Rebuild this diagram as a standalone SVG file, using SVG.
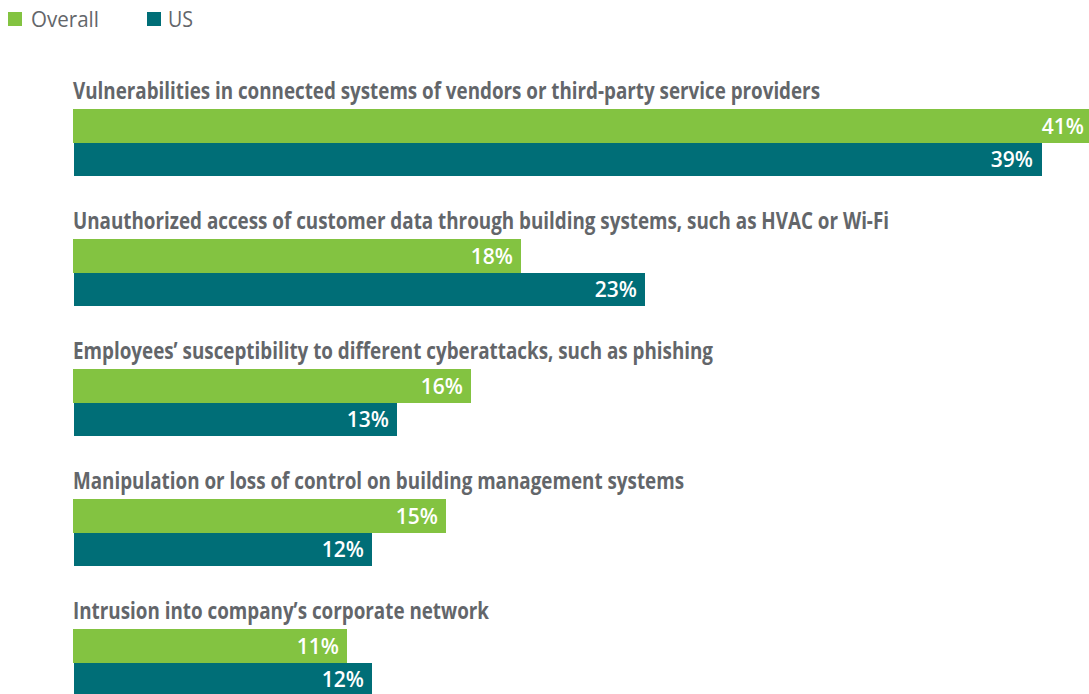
<svg xmlns="http://www.w3.org/2000/svg" width="1089" height="694" viewBox="0 0 1089 694">
<style>
.legend{font-family:"Open Sans","Liberation Sans",sans-serif;font-size:21px;fill:#63666a}
.title{font-family:"Open Sans","Liberation Sans",sans-serif;font-size:23.5px;font-weight:700;fill:#63666a}
.val{font-family:"Open Sans","Liberation Sans",sans-serif;font-size:21px;font-weight:600;fill:#ffffff;text-anchor:end}
.ov{fill:#83c341}
.us{fill:#006e77}
</style>
<rect width="1089" height="694" fill="#ffffff"/>
<g id="legend">
<rect class="ov" x="8" y="12" width="14" height="14"/>
<text class="legend" x="31" y="27" textLength="68" lengthAdjust="spacingAndGlyphs">Overall</text>
<rect class="us" x="147" y="12" width="14" height="14"/>
<text class="legend" x="168" y="27" textLength="25" lengthAdjust="spacingAndGlyphs">US</text>
</g>
<g id="group1">
<text class="title" x="73" y="99" textLength="747" lengthAdjust="spacingAndGlyphs">Vulnerabilities in connected systems of vendors or third-party service providers</text>
<rect class="ov" x="73" y="109" width="1020" height="34"/>
<text class="val" x="1084" y="134">41%</text>
<rect class="us" x="74" y="143" width="968" height="33"/>
<text class="val" x="1033" y="167">39%</text>
</g>
<g id="group2">
<text class="title" x="73" y="229" textLength="816" lengthAdjust="spacingAndGlyphs">Unauthorized access of customer data through building systems, such as HVAC or Wi-Fi</text>
<rect class="ov" x="73" y="239" width="448" height="34"/>
<text class="val" x="513" y="264">18%</text>
<rect class="us" x="74" y="273" width="571" height="33"/>
<text class="val" x="637" y="297">23%</text>
</g>
<g id="group3">
<text class="title" x="73" y="359" textLength="640" lengthAdjust="spacingAndGlyphs">Employees’ susceptibility to different cyberattacks, such as phishing</text>
<rect class="ov" x="73" y="369" width="398" height="34"/>
<text class="val" x="463" y="394">16%</text>
<rect class="us" x="74" y="403" width="323" height="33"/>
<text class="val" x="389" y="427">13%</text>
</g>
<g id="group4">
<text class="title" x="73" y="489" textLength="611" lengthAdjust="spacingAndGlyphs">Manipulation or loss of control on building management systems</text>
<rect class="ov" x="73" y="499" width="373" height="34"/>
<text class="val" x="438" y="524">15%</text>
<rect class="us" x="74" y="533" width="298" height="33"/>
<text class="val" x="364" y="557">12%</text>
</g>
<g id="group5">
<text class="title" x="73" y="619" textLength="416" lengthAdjust="spacingAndGlyphs">Intrusion into company’s corporate network</text>
<rect class="ov" x="73" y="629" width="274" height="34"/>
<text class="val" x="339" y="654">11%</text>
<rect class="us" x="74" y="663" width="298" height="33"/>
<text class="val" x="364" y="687">12%</text>
</g>
</svg>
